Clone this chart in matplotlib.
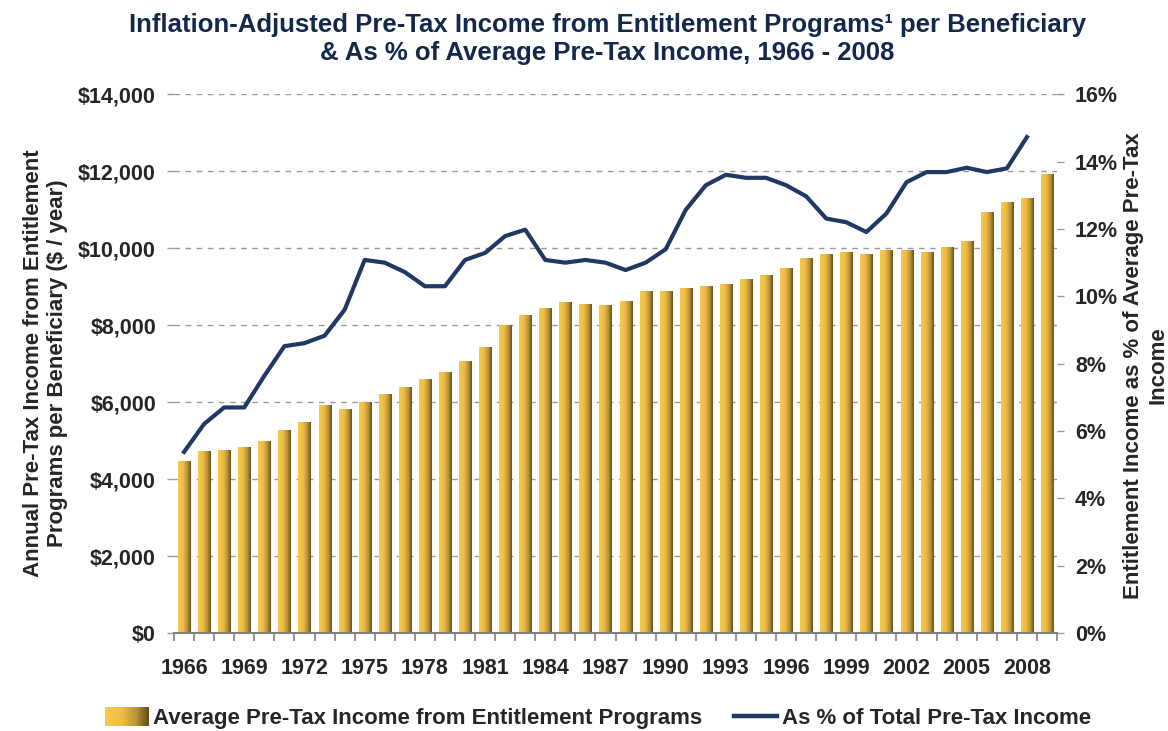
import numpy as np
import matplotlib
matplotlib.use("Agg")
import matplotlib.pyplot as plt
from matplotlib.colors import LinearSegmentedColormap
from matplotlib.legend_handler import HandlerBase
from matplotlib.patches import Rectangle
from matplotlib.lines import Line2D
from matplotlib.ticker import FuncFormatter, FixedLocator

# Data.
years = list(range(1966, 2010))
income = [4470, 4730, 4760, 4830, 4990, 5280, 5480, 5920, 5830, 6000,
          6210, 6390, 6600, 6790, 7070, 7430, 8010, 8270, 8450, 8610,
          8550, 8530, 8640, 8900, 8900, 8970, 9020, 9070, 9200, 9310,
          9490, 9750, 9860, 9910, 9860, 9960, 9960, 9910, 10040, 10200,
          10950, 11210, 11310, 11940]
pct_years = list(range(1966, 2009))
pct = [5.38, 6.21, 6.70, 6.70, 7.64, 8.52, 8.61, 8.83, 9.60, 11.08,
       11.00, 10.72, 10.30, 10.30, 11.08, 11.29, 11.79, 11.98, 11.08, 11.00,
       11.08, 11.00, 10.78, 11.00, 11.40, 12.57, 13.30, 13.61, 13.52, 13.52,
       13.30, 12.97, 12.31, 12.20, 11.91, 12.46, 13.39, 13.69, 13.69, 13.82,
       13.69, 13.80, 14.73]
label_years = list(range(1966, 2009, 3))

navy = "#1F3864"
text_col = "#262626"
gold = LinearSegmentedColormap.from_list(
    "gold", [(0, "#F7C94B"), (0.4, "#EDBC45"), (0.75, "#B48F36"), (1, "#665020")])

plt.rcParams["font.family"] = ["Liberation Sans", "DejaVu Sans"]

fig = plt.figure(figsize=(11.68, 7.31), dpi=100)
ax = fig.add_axes([0.149, 0.134, 0.756, 0.737])
ax2 = ax.twinx()

x = np.arange(len(years))
bars = ax.bar(x, income, width=0.6, color="none", zorder=2)
grad = np.linspace(0, 1, 64).reshape(1, -1)
for b in bars:
    x0, w, h = b.get_x(), b.get_width(), b.get_height()
    im = ax.imshow(grad, cmap=gold, extent=[x0, x0 + w, 0, h],
                   aspect="auto", zorder=2, interpolation="bilinear")
    im.set_clip_path(b)

px = [years.index(y) for y in pct_years]
ax2.plot(px, [p / 100 for p in pct], color=navy, lw=3, zorder=3)

ax.set_xlim(-0.5, len(years) - 0.5)
ax.set_ylim(0, 14000)
ax2.set_ylim(0, 0.16)

ax.set_yticks(np.arange(0, 14001, 2000))
ax.yaxis.set_major_formatter(FuncFormatter(lambda v, p: f"${v:,.0f}"))
ax2.set_yticks(np.arange(0, 0.161, 0.02))
ax2.yaxis.set_major_formatter(FuncFormatter(lambda v, p: f"{v * 100:.0f}%"))

ax.set_xticks([years.index(y) for y in label_years])
ax.set_xticklabels([str(y) for y in label_years])
ax.xaxis.set_minor_locator(FixedLocator(np.arange(-0.5, len(years), 1)))
ax.tick_params(axis="x", which="major", length=0, pad=18)
ax.tick_params(axis="x", which="minor", length=6, color="#808080", width=1.2)

for a in (ax, ax2):
    for s in a.spines.values():
        s.set_visible(False)
    a.tick_params(axis="y", length=5, color="#999999", width=1)
    for lab in a.get_xticklabels() + a.get_yticklabels():
        lab.set_fontweight("bold")
        lab.set_fontsize(15.5)
        lab.set_color(text_col)
ax.spines["bottom"].set_visible(True)
ax.spines["bottom"].set_color("#808080")
ax.spines["bottom"].set_linewidth(1.5)
ax.tick_params(axis="y", pad=8)
ax2.tick_params(axis="y", pad=8)

ax.set_axisbelow(True)
ax.yaxis.grid(True, color="#9a9a9a", linestyle=(0, (4, 4)), linewidth=1)

ax.set_ylabel("Annual Pre-Tax Income from Entitlement\nPrograms per Beneficiary ($ / year)",
              fontsize=16, fontweight="bold", color=text_col, labelpad=7)
fig.text(0.981, 0.50, "Entitlement Income as % of Average Pre-Tax\nIncome",
         rotation=90, ha="center", va="center", multialignment="center",
         fontsize=16, fontweight="bold", color=text_col)

fig.text(0.52, 0.982,
         "Inflation-Adjusted Pre-Tax Income from Entitlement Programs\u00b9 per Beneficiary\n"
         "& As % of Average Pre-Tax Income, 1966 - 2008",
         ha="center", va="top", fontsize=18.5, fontweight="bold", color="#14284B",
         linespacing=1.2)


class GradientHandler(HandlerBase):
    def create_artists(self, legend, orig_handle, xdescent, ydescent,
                       width, height, fontsize, trans):
        n = 24
        return [Rectangle((-xdescent + i * width / n, -ydescent - 1), width / n + 0.3,
                          height + 2, facecolor=gold(i / (n - 1)), edgecolor="none",
                          transform=trans) for i in range(n)]


bar_handle = Rectangle((0, 0), 1, 1)
line_handle = Line2D([], [], color=navy, lw=3.2)
leg = fig.legend([bar_handle, line_handle],
                 ["Average Pre-Tax Income from Entitlement Programs",
                  "As % of Total Pre-Tax Income"],
                 handler_map={Rectangle: GradientHandler()},
                 loc="lower center", bbox_to_anchor=(0.512, -0.025), ncol=2,
                 frameon=False, handlelength=1.95, handletextpad=0.2,
                 columnspacing=1.45,
                 prop={"weight": "bold", "size": 16})
for t in leg.get_texts():
    t.set_color(text_col)

fig.savefig("out.png", dpi=100)
